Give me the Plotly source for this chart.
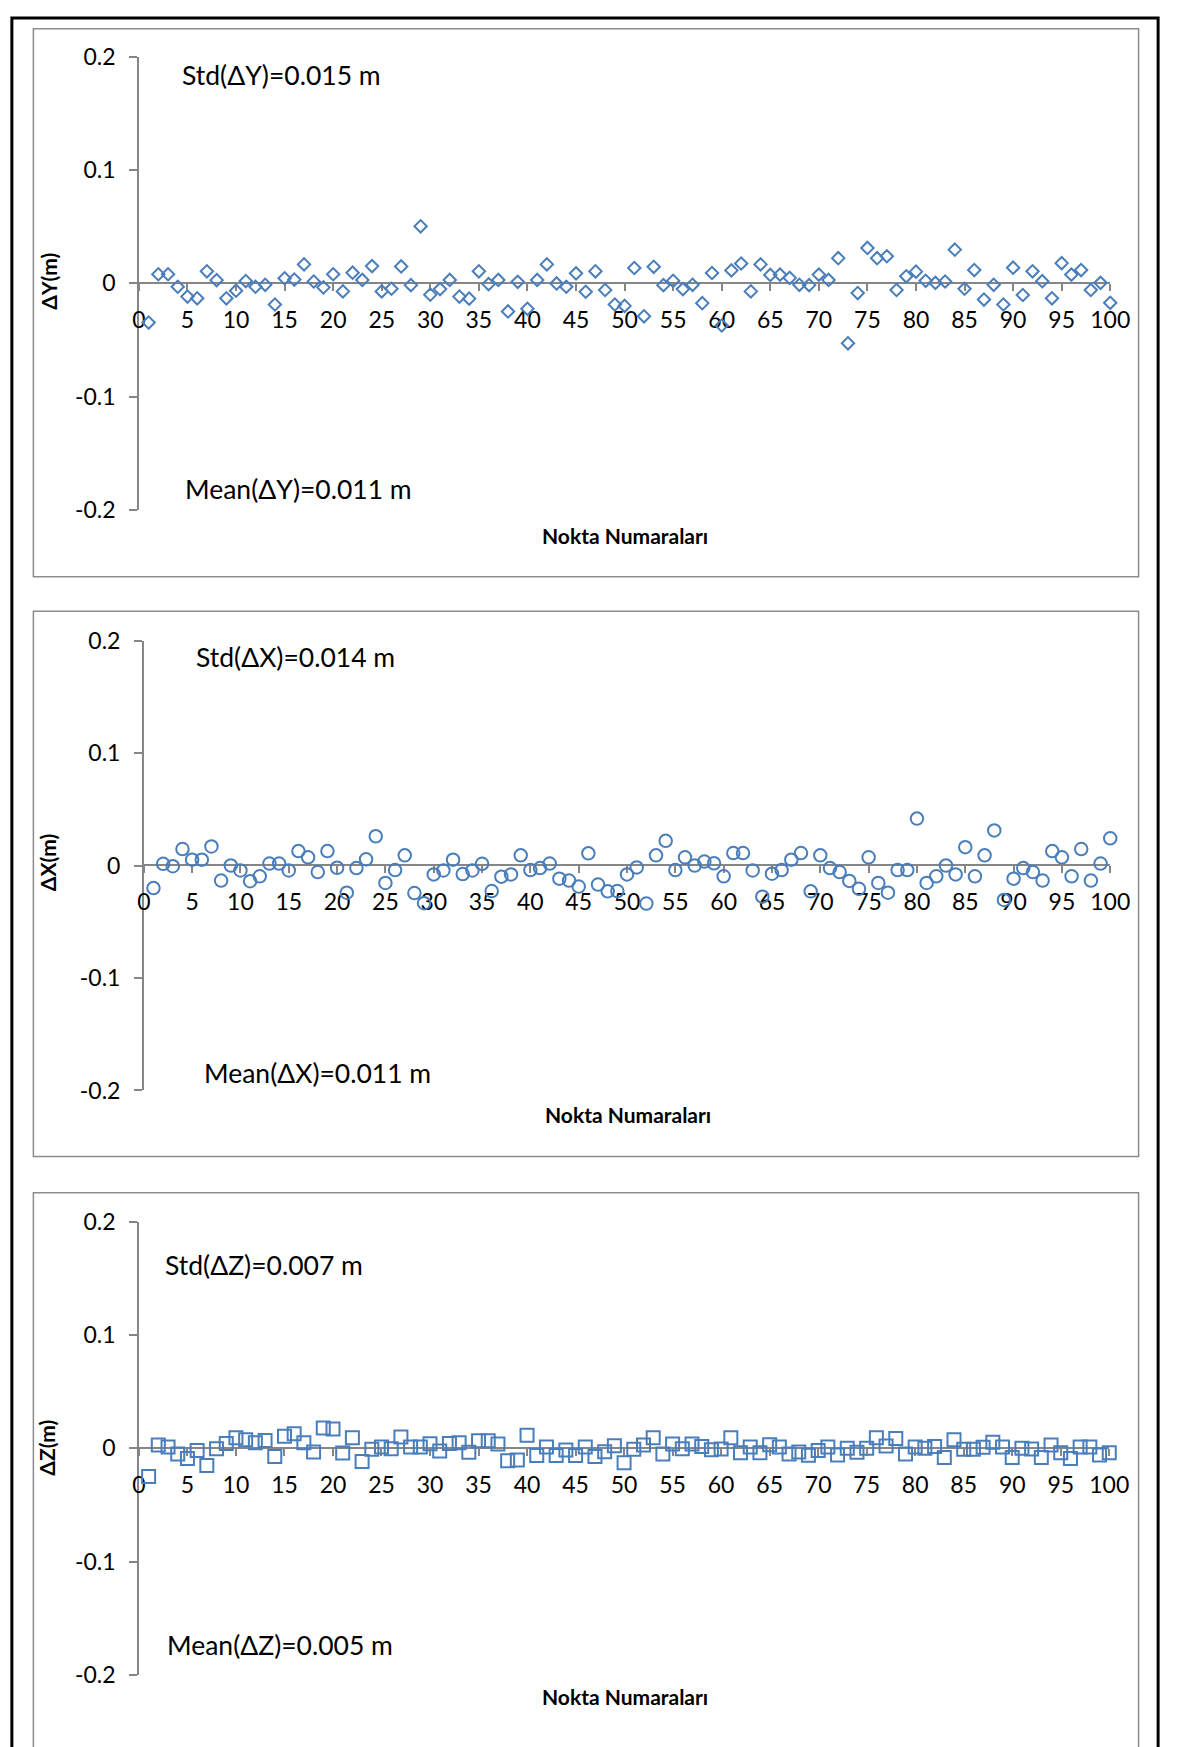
import plotly.graph_objects as go

# Point numbers and coordinate differences (m) for the three components
points = list(range(1, 101))

dY = [-0.0346, 0.008, 0.008, -0.003, -0.0117, -0.0132, 0.0106, 0.0028, -0.0132, -0.0065,
      0.002, -0.003, -0.0013, -0.0187, 0.0045, 0.0033, 0.0167, 0.0016, -0.0036, 0.008,
      -0.0071, 0.0094, 0.003, 0.0152, -0.0071, -0.0048, 0.0149, -0.0016, 0.0503, -0.01,
      -0.0051, 0.003, -0.0117, -0.0135, 0.0106, -0.0007, 0.003, -0.0248, 0.0013, -0.0225,
      0.003, 0.0167, -0.0001, -0.003, 0.0088, -0.0074, 0.0106, -0.0059, -0.0187, -0.0199,
      0.0135, -0.0291, 0.0146, -0.0016, 0.0022, -0.0051, -0.0013, -0.0175, 0.0091, -0.0372,
      0.0114, 0.0175, -0.0071, 0.0167, 0.0074, 0.0077, 0.0048, -0.0013, -0.0016, 0.0077,
      0.003, 0.0222, -0.0529, -0.0086, 0.0312, 0.0222, 0.0239, -0.0059, 0.0062, 0.0103,
      0.0022, 0.0004, 0.0016, 0.0297, -0.0048, 0.0117, -0.0143, -0.0013, -0.0187, 0.0138,
      -0.0103, 0.0106, 0.0019, -0.0132, 0.0178, 0.0077, 0.0117, -0.0059, 0.0004, -0.0172]

dX = [-0.0201, 0.0015, -0.0006, 0.0146, 0.0052, 0.0052, 0.0169, -0.0134, 0.0, -0.0044,
      -0.014, -0.0096, 0.0017, 0.0017, -0.0044, 0.0128, 0.0073, -0.0058, 0.0128, -0.002,
      -0.0242, -0.0023, 0.0055, 0.026, -0.0155, -0.0041, 0.009, -0.0245, -0.0335, -0.0079,
      -0.0044, 0.0052, -0.0076, -0.0044, 0.0015, -0.0227, -0.0099, -0.0079, 0.009, -0.0041,
      -0.0023, 0.0017, -0.0117, -0.0134, -0.0187, 0.0108, -0.0169, -0.023, -0.0227, -0.0079,
      -0.0017, -0.0338, 0.009, 0.0219, -0.0041, 0.0073, 0.0, 0.0035, 0.002, -0.0096,
      0.0111, 0.0111, -0.0044, -0.0277, -0.0073, -0.0041, 0.0052, 0.0111, -0.023, 0.009,
      -0.0023, -0.0058, -0.0137, -0.0207, 0.0073, -0.0155, -0.0242, -0.0041, -0.0041, 0.0417,
      -0.0155, -0.0096, 0.0, -0.0079, 0.0163, -0.0096, 0.009, 0.0312, -0.0306, -0.0117,
      -0.0023, -0.0058, -0.0134, 0.0128, 0.0073, -0.0096, 0.0146, -0.0134, 0.0017, 0.0242]

dZ = [-0.0249, 0.0029, 0.0012, -0.0049, -0.009, -0.002, -0.0151, -0.0003, 0.0043, 0.0093,
      0.0075, 0.0049, 0.007, -0.0072, 0.0107, 0.0128, 0.0049, -0.0032, 0.018, 0.0171,
      -0.0041, 0.0093, -0.0116, -0.0009, 0.0012, -0.0003, 0.0101, 0.0012, 0.0012, 0.0041,
      -0.0023, 0.0043, 0.0049, -0.0035, 0.0067, 0.0067, 0.0038, -0.011, -0.0104, 0.0116,
      -0.0064, 0.0012, -0.0064, -0.0014, -0.0064, 0.0012, -0.0072, -0.0029, 0.0023, -0.0128,
      -0.0009, 0.0029, 0.0093, -0.0049, 0.0038, -0.0003, 0.0038, 0.0017, -0.0012, -0.0006,
      0.0093, -0.0038, 0.0012, -0.0038, 0.0032, 0.0012, -0.0049, -0.0032, -0.0061, -0.002,
      0.0012, -0.0058, 0.0, -0.0035, 0.0, 0.0093, 0.002, 0.0087, -0.0049, 0.0012,
      0.0, 0.0017, -0.0081, 0.0075, -0.0009, -0.0009, 0.0009, 0.0055, 0.0012, -0.0081,
      0.0, -0.0006, -0.0081, 0.0029, -0.0038, -0.009, 0.0012, 0.0012, -0.0058, -0.0038]

y_tickvals = [-0.2, -0.1, 0, 0.1, 0.2]
y_ticktext = ["-0.2", "-0.1", "0", "0.1", "0.2"]

series_names = ["ΔY", "ΔX", "ΔZ"]
std_values = ["0.015", "0.014", "0.007"]
mean_values = ["0.011", "0.011", "0.005"]
x_title = "Nokta Numaraları"

W, H = 1183, 1747
FONT = "Lato, 'Open Sans', sans-serif"
BLUE = "#4A7EBB"
GRAY = "#868686"


def px(x):
    return x / W


def py(y):
    return 1 - y / H


# Layout of each panel in page pixels
panels = [
    dict(data=dY, symbol="diamond-open", size=9.5,
         x0=135, x1=1129, ytop=42.3, ybot=503.1,
         box=(27, 14, 1158, 571),
         ylab=(43, 271), std=(177, 61), mean=(180, 482), xt=(632, 529)),
    dict(data=dX, symbol="circle-open", size=12.5,
         x0=140, x1=1129, ytop=635.7, ybot=1093,
         box=(27, 606, 1158, 1160),
         ylab=(41, 862), std=(191, 652), mean=(200, 1075), xt=(635, 1117)),
    dict(data=dZ, symbol="square-open", size=13,
         x0=135, x1=1128, ytop=1226.7, ybot=1686.7,
         box=(27, 1197, 1158, 1770),
         ylab=(41, 1456), std=(160, 1270), mean=(162, 1657), xt=(632, 1709)),
]

fig = go.Figure()
shapes = []
annotations = []
layout_axes = {}

for i, (p, name, sd, mn) in enumerate(zip(panels, series_names, std_values, mean_values), start=1):
    xa = "x" if i == 1 else f"x{i}"
    ya = "y" if i == 1 else f"y{i}"
    fig.add_trace(go.Scatter(
        x=points, y=p["data"], mode="markers", xaxis=xa, yaxis=ya,
        marker=dict(symbol=p["symbol"], size=p["size"], color=BLUE,
                    line=dict(width=2, color=BLUE)),
        showlegend=False, cliponaxis=False,
    ))
    ydom = [py(p["ybot"]), py(p["ytop"])]
    zero_pos = (ydom[0] + ydom[1]) / 2
    xkey = "xaxis" if i == 1 else f"xaxis{i}"
    ykey = "yaxis" if i == 1 else f"yaxis{i}"
    layout_axes[xkey] = dict(
        domain=[px(p["x0"]), px(p["x1"])], range=[0, 100],
        anchor="free", position=zero_pos,
        tick0=0, dtick=5, ticks="outside", ticklen=7, tickwidth=1.5, tickcolor=GRAY,
        showline=True, linecolor=GRAY, linewidth=1.5, showgrid=False, zeroline=False,
        tickfont=dict(family=FONT, size=23, color="black"), ticklabelstandoff=9,
        layer="below traces",
    )
    layout_axes[ykey] = dict(
        domain=ydom, range=[-0.2, 0.2], anchor=xa,
        tickvals=y_tickvals, ticktext=y_ticktext,
        ticks="outside", ticklen=8, tickwidth=1.5, tickcolor=GRAY,
        showline=True, linecolor=GRAY, linewidth=1.5, showgrid=False, zeroline=False,
        tickfont=dict(family=FONT, size=23, color="black"), ticklabelstandoff=9,
        layer="below traces",
    )

    bx0, by0, bx1, by1 = p["box"]
    shapes.append(dict(type="rect", xref="paper", yref="paper",
                       x0=px(bx0), x1=px(bx1), y0=py(by1), y1=py(by0),
                       line=dict(color="#8C8C8C", width=1.5), layer="below"))

    annotations += [
        dict(text=f"<b>{name}(m)</b>", x=px(p["ylab"][0]), y=py(p["ylab"][1]),
             xref="paper", yref="paper", showarrow=False, textangle=-90,
             xanchor="center", yanchor="middle",
             font=dict(family=FONT, size=21, color="black")),
        dict(text=f"Std({name})={sd} m", x=px(p["std"][0]), y=py(p["std"][1]),
             xref="paper", yref="paper", showarrow=False,
             xanchor="left", yanchor="middle",
             font=dict(family=FONT, size=26.5, color="black")),
        dict(text=f"Mean({name})={mn} m", x=px(p["mean"][0]), y=py(p["mean"][1]),
             xref="paper", yref="paper", showarrow=False,
             xanchor="left", yanchor="middle",
             font=dict(family=FONT, size=26.5, color="black")),
        dict(text=f"<b>{x_title}</b>", x=px(p["xt"][0]), y=py(p["xt"][1]),
             xref="paper", yref="paper", showarrow=False,
             xanchor="center", yanchor="middle",
             font=dict(family=FONT, size=21, color="black")),
    ]

# Outer page frame
shapes.append(dict(type="rect", xref="paper", yref="paper",
                   x0=px(5), x1=px(1178), y0=py(1790), y1=py(3),
                   line=dict(color="black", width=3), layer="below"))

fig.update_layout(
    width=W, height=H, margin=dict(l=0, r=0, t=0, b=0),
    paper_bgcolor="white", plot_bgcolor="white",
    shapes=shapes, annotations=annotations,
    **layout_axes,
)

# Place the figure flush with the page corner
fig.write_html(
    "out.html",
    post_script="document.body.style.margin='0';document.body.style.overflow='hidden';",
)
